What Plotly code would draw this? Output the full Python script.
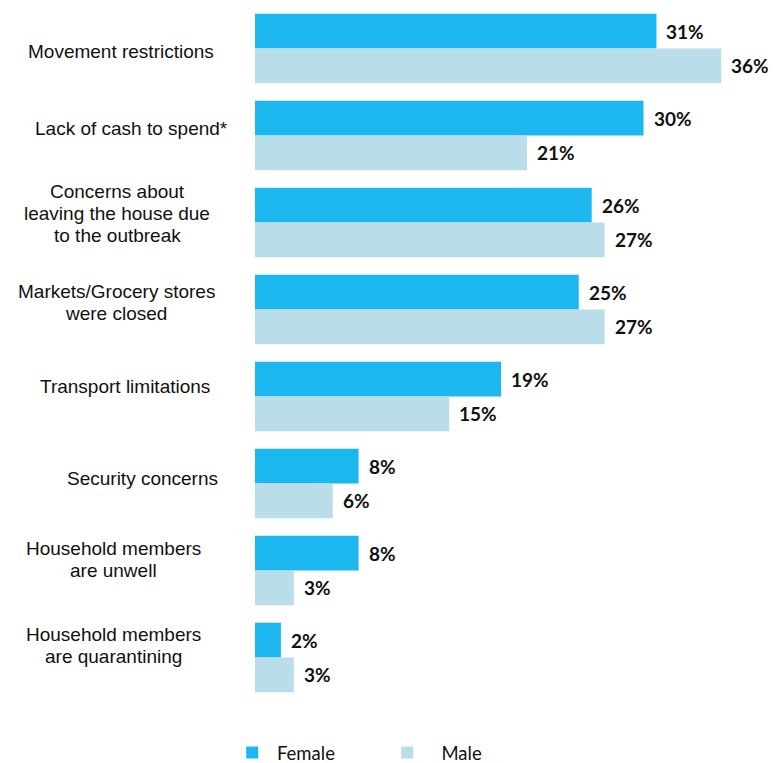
import plotly.graph_objects as go

categories = [
    "Movement restrictions",
    "Lack of cash to spend*",
    "Concerns about<br>leaving the house due<br>to the outbreak",
    "Markets/Grocery stores<br>were closed",
    "Transport limitations",
    "Security concerns",
    "Household members<br>are unwell",
    "Household members<br>are quarantining",
]
female = [31, 30, 26, 25, 19, 8, 8, 2]
male = [36, 21, 27, 27, 15, 6, 3, 3]

FEMALE_COLOR = "#1DB7EF"
MALE_COLOR = "#B9DDE9"

# horizontal centre (px from left edge) and vertical nudge (px) of each category label
label_cx = [121, 131, 117, 116, 125, 142, 113, 113]
label_dy = [-3, 7, 9, 7, 10, 5, 11, 12]
LINE_GAP = 22  # px between lines of a wrapped category label

PLOT_LEFT = 255

fig = go.Figure()
fig.add_trace(go.Bar(y=categories, x=female, orientation="h", name="\u00a0Female",
                     marker=dict(color=FEMALE_COLOR, line=dict(width=0))))
fig.add_trace(go.Bar(y=categories, x=male, orientation="h", name="\u00a0\u00a0\u00a0Male",
                     marker=dict(color=MALE_COLOR, line=dict(width=0))))

value_font = dict(family="Lato", size=19, color="#111111", weight="bold")
label_font = dict(family="Liberation Sans", size=19, color="#111111")
annotations = []
for cat, f, m, cx, dy in zip(categories, female, male, label_cx, label_dy):
    # value labels at the end of each bar
    annotations.append(dict(x=f, y=cat, xref="x", yref="y", text=f"{f}%",
                            showarrow=False, xanchor="left", xshift=8, yshift=17,
                            font=value_font))
    annotations.append(dict(x=m, y=cat, xref="x", yref="y", text=f"{m}%",
                            showarrow=False, xanchor="left", xshift=8, yshift=-17,
                            font=value_font))
    # category label, one centred line at a time to the left of the bars
    lines = cat.split("<br>")
    n = len(lines)
    for i, line in enumerate(lines):
        offset = (i - (n - 1) / 2) * LINE_GAP
        annotations.append(dict(x=0, y=cat, xref="paper", yref="y", text=line,
                                showarrow=False, xanchor="center", xshift=cx - PLOT_LEFT,
                                yshift=dy - offset, align="center", font=label_font))

fig.update_layout(
    width=775, height=763,
    margin=dict(l=PLOT_LEFT, r=2, t=5, b=62, autoexpand=False),
    paper_bgcolor="white", plot_bgcolor="white",
    barmode="group", bargap=0.2, bargroupgap=0,
    xaxis=dict(range=[0, 40], visible=False, fixedrange=True),
    yaxis=dict(autorange="reversed", showticklabels=False, showgrid=False,
               zeroline=False, showline=False, ticks=""),
    showlegend=True,
    legend=dict(orientation="h", x=-0.044, xanchor="left", y=-0.0747, yanchor="middle",
                font=dict(family="Lato", size=18.5, color="#111111"),
                entrywidth=110, entrywidthmode="pixels", traceorder="normal"),
    annotations=annotations,
)

fig.write_html("out.html")
